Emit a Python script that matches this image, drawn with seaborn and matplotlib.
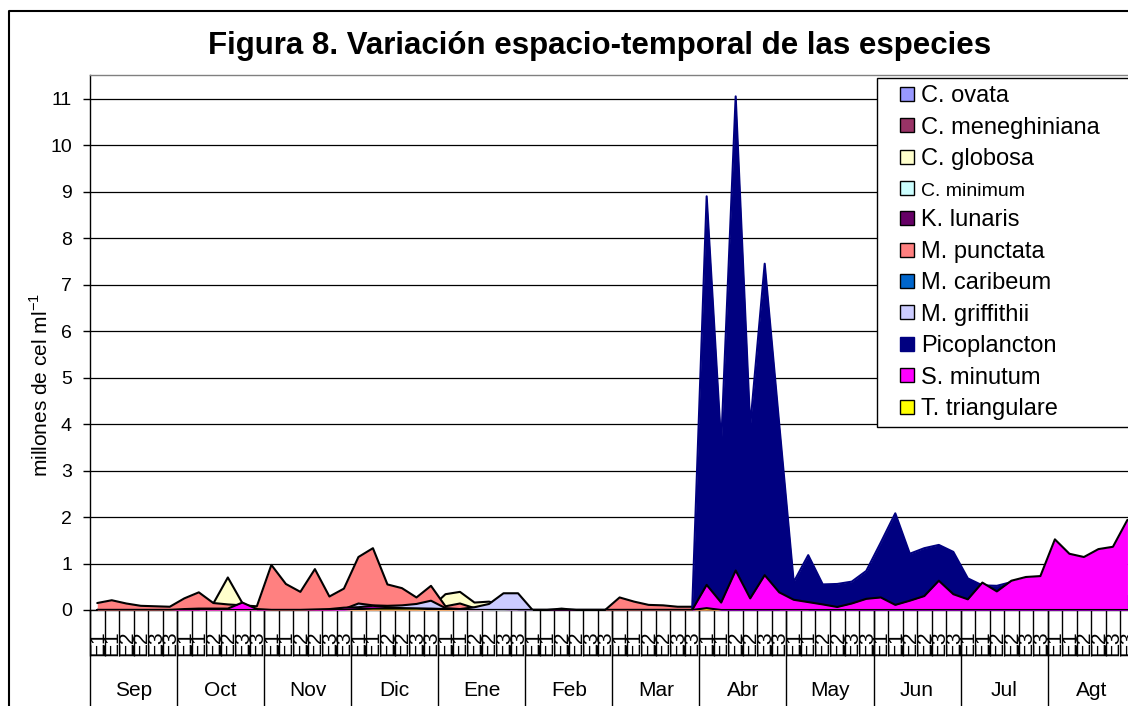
import numpy as np
import pandas as pd
import matplotlib
matplotlib.use("Agg")
import matplotlib.pyplot as plt
from matplotlib.lines import Line2D
import seaborn as sns

# ---- data (millones de cel/ml), 6 samples per month ----
meses = ['Sep', 'Oct', 'Nov', 'Dic', 'Ene', 'Feb', 'Mar', 'Abr', 'May', 'Jun', 'Jul', 'Agt']
sub_labels = ['E1', 'E1', 'E2', 'E2', 'E3', 'E3']

c_ovata = [0, 0, 0, 0, 0, 0,  0, 0, 0, 0, 0, 0,  0, 0, 0, 0, 0, 0,
           0.03, 0.04, 0.04, 0.04, 0.05, 0.05,  0, 0, 0, 0, 0, 0,  0, 0, 0, 0, 0, 0,
           0, 0, 0, 0, 0, 0,  0, 0, 0, 0, 0, 0,  0, 0, 0, 0, 0, 0,
           0, 0, 0, 0, 0, 0,  0, 0, 0, 0, 0, 0,  0, 0, 0, 0, 0, 0]
c_meneghiniana = [0] * 72
c_globosa = [0, 0, 0, 0, 0, 0,  0, 0, 0.14, 0.70, 0.15, 0,  0, 0, 0, 0, 0, 0,
             0, 0, 0, 0, 0, 0.05,  0.34, 0.39, 0.16, 0.18, 0.10, 0,  0, 0, 0, 0, 0, 0,
             0, 0, 0, 0, 0, 0,  0, 0, 0, 0, 0, 0,  0, 0, 0, 0, 0, 0,
             0, 0, 0, 0, 0, 0,  0, 0, 0, 0, 0, 0,  0, 0, 0, 0, 0, 0]
c_minimum = [0] * 72
k_lunaris = [0, 0, 0, 0, 0, 0,  0, 0, 0, 0, 0, 0,  0, 0, 0, 0, 0, 0,
             0, 0, 0, 0, 0, 0,  0, 0, 0, 0, 0, 0.03,  0, 0, 0.03, 0, 0, 0,
             0, 0, 0, 0, 0, 0,  0, 0, 0, 0, 0, 0,  0, 0, 0, 0, 0, 0,
             0, 0, 0, 0, 0, 0,  0, 0, 0, 0, 0, 0,  0, 0, 0, 0, 0, 0]
m_punctata = [0.15, 0.21, 0.14, 0.09, 0.08, 0.07,  0.25, 0.38, 0.15, 0.12, 0.10, 0.08,
              0.97, 0.56, 0.39, 0.88, 0.29, 0.46,  1.14, 1.33, 0.55, 0.47, 0.27, 0.52,
              0.08, 0.14, 0.04, 0, 0, 0,  0, 0, 0, 0, 0, 0,
              0.27, 0.18, 0.11, 0.10, 0.07, 0.07,  0, 0, 0, 0, 0, 0,
              0.62, 0, 0, 0, 0, 0,  0, 0, 0, 0, 0, 0,
              0, 0, 0, 0, 0, 0,  0, 0, 0, 0, 0, 0]
m_caribeum = [0] * 72
m_griffithii = [0, 0, 0, 0, 0, 0,  0, 0, 0, 0, 0, 0,  0, 0, 0, 0, 0, 0.02,
                0.14, 0.10, 0.09, 0.10, 0.13, 0.20,  0.04, 0.02, 0.06, 0.13, 0.36, 0.36,
                0, 0, 0, 0, 0, 0,  0, 0, 0, 0, 0, 0,  0, 0, 0, 0, 0, 0,
                0, 0, 0, 0, 0, 0,  0, 0, 0, 0, 0, 0,  0, 0, 0, 0, 0, 0,  0, 0, 0, 0, 0, 0]
picoplancton = [0, 0, 0, 0, 0, 0,  0, 0, 0, 0, 0, 0,  0, 0, 0, 0, 0, 0,
                0, 0, 0, 0, 0, 0,  0, 0, 0, 0, 0, 0,  0, 0, 0, 0, 0, 0,
                0, 0, 0, 0, 0, 0,  8.90, 3.56, 11.05, 3.95, 7.45, 4.00,
                0.60, 1.18, 0.55, 0.56, 0.61, 0.84,  1.45, 2.08, 1.21, 1.33, 1.40, 1.25,
                0.68, 0.53, 0.52, 0.60, 0.50, 0.45,  0.40, 0.40, 0.35, 0.35, 0.30, 0.30]
s_minutum = [0, 0, 0, 0, 0, 0,  0.02, 0.03, 0.03, 0.03, 0.16, 0.02,
             0, 0, 0, 0.01, 0.02, 0.05,  0.06, 0.09, 0.06, 0.04, 0.03, 0.03,
             0.02, 0, 0, 0, 0, 0,  0, 0, 0, 0, 0, 0,  0, 0, 0, 0, 0, 0,
             0.54, 0.16, 0.85, 0.25, 0.75, 0.38,  0.22, 0.17, 0.12, 0.065, 0.14, 0.24,
             0.27, 0.11, 0.20, 0.30, 0.63, 0.34,  0.23, 0.59, 0.40, 0.63, 0.71, 0.73,
             1.52, 1.21, 1.14, 1.31, 1.36, 1.94]
t_triangulare = [0, 0, 0, 0, 0, 0,  0, 0, 0, 0, 0, 0,  0, 0, 0, 0, 0, 0,
                 0.02, 0.03, 0.03, 0.03, 0.03, 0.02,  0.02, 0, 0, 0, 0, 0,  0, 0, 0, 0, 0, 0,
                 0, 0, 0, 0, 0, 0,  0.04, 0, 0, 0, 0, 0,  0, 0, 0, 0, 0, 0,
                 0, 0, 0, 0, 0, 0,  0, 0, 0, 0, 0, 0,  0, 0, 0, 0, 0, 0]

especies = ['C. ovata', 'C. meneghiniana', 'C. globosa', 'C. minimum', 'K. lunaris',
            'M. punctata', 'M. caribeum', 'M. griffithii', 'Picoplancton', 'S. minutum',
            'T. triangulare']
valores = [c_ovata, c_meneghiniana, c_globosa, c_minimum, k_lunaris, m_punctata,
           m_caribeum, m_griffithii, picoplancton, s_minutum, t_triangulare]
colores = ['#9999FF', '#993366', '#FFFFCC', '#CCFFFF', '#660066', '#FF8080',
           '#0066CC', '#CCCCFF', '#000080', '#FF00FF', '#FFFF00']
bordes = ['black'] * 8 + ['#000080'] + ['black'] * 2

df = pd.DataFrame({sp: v for sp, v in zip(especies, valores)})
df['idx'] = np.arange(len(df))

sns.set_style('white')
plt.rcParams['font.family'] = ['Liberation Sans', 'DejaVu Sans']
plt.rcParams['text.color'] = 'black'
plt.rcParams['xtick.color'] = 'black'
plt.rcParams['ytick.color'] = 'black'
plt.rcParams['axes.labelcolor'] = 'black'

W, H = 1128, 706
fig = plt.figure(figsize=(W / 100, H / 100), dpi=100)
ax = fig.add_axes([90 / W, 96 / H, 1044.7 / W, 535 / H])

for k, (sp, fc, ec) in enumerate(zip(especies, colores, bordes)):
    ax.fill_between(df['idx'], df[sp], 0, color=fc, lw=0, zorder=3 + k)
    sns.lineplot(x=df['idx'], y=df[sp], color=ec, lw=1.5, ax=ax, zorder=3 + k,
                 legend=False)

ax.set_xlim(-0.5, 71.5)
ax.set_ylim(0, 11.51)
ax.set_yticks(range(0, 12))
ax.yaxis.grid(True, color='black', lw=0.9)
ax.set_axisbelow(True)
ax.tick_params(axis='y', direction='out', length=5, width=1, color='black',
               labelsize=14, pad=8, left=True)
ax.set_ylabel('')
ax.set_xlabel('')

# categorias (dos niveles)
ax.set_xticks(np.arange(72))
ax.set_xticklabels(sub_labels * 12, rotation=90, fontsize=15)
ax.tick_params(axis='x', which='major', length=0, pad=15)
ax.set_xticks(np.arange(-0.5, 72, 1), minor=True)
ax.tick_params(axis='x', which='minor', direction='out', length=33, width=1,
               color='black', bottom=True)
ax.vlines(np.arange(-0.5, 72, 6), 0, -96 / 535, transform=ax.get_xaxis_transform(),
          clip_on=False, color='black', lw=1)
for m, mes in enumerate(meses):
    ax.text(6 * m + 2.5, -80 / 535, mes, transform=ax.get_xaxis_transform(),
            ha='center', va='center', fontsize=15)

for s in ['left', 'bottom']:
    ax.spines[s].set_color('black')
    ax.spines[s].set_linewidth(1)
for s in ['top', 'right']:
    ax.spines[s].set_color('#808080')
    ax.spines[s].set_linewidth(1)

# leyenda
handles = [Line2D([], [], marker='s', ls='none', markersize=10, markerfacecolor=fc,
                  markeredgecolor=ec, markeredgewidth=1)
           for fc, ec in zip(colores, bordes)]
leg = ax.legend(handles, especies, loc='upper left',
                bbox_to_anchor=(877 / W, 1 - 426 / H, 252 / W, 348 / H),
                bbox_transform=fig.transFigure, mode='expand', frameon=True,
                fancybox=False, edgecolor='black', framealpha=1, fontsize=17,
                borderpad=0.3, labelspacing=0.4, handlelength=1.95,
                handletextpad=-0.4, borderaxespad=0)
leg.get_frame().set_linewidth(1)
leg.set_zorder(20)
leg.get_texts()[3].set_fontsize(14)

fig.text(600 / W, 1 - 46 / H, 'Figura 8. Variación espacio-temporal de las especies',
         ha='center', va='center', fontsize=22.5, fontweight='bold')
fig.text(40 / W, 1 - 385 / H, 'millones de cel ml$^{\\mathregular{-1}}$', rotation=90,
         ha='center', va='center', fontsize=15)

fig.add_artist(Line2D([9 / W, 9 / W, 1], [0, 1 - 11 / H, 1 - 11 / H],
                      transform=fig.transFigure, color='black', lw=1.5))

plt.savefig('out.png', dpi=100)
